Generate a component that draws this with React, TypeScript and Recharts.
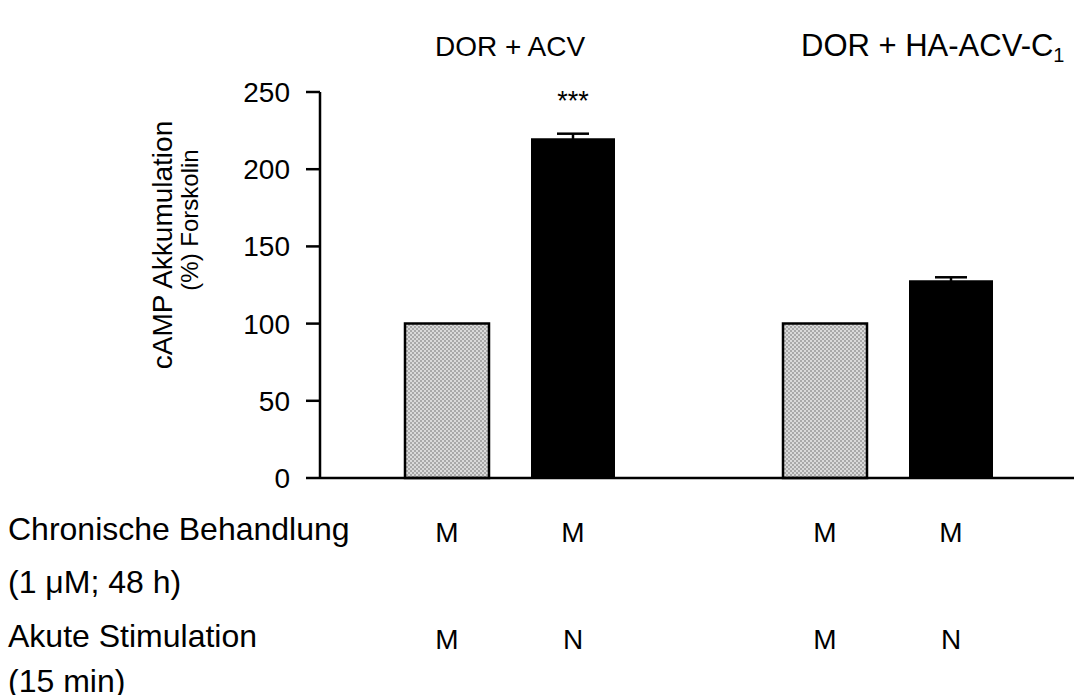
import React from "react";
import { BarChart, Bar, XAxis, YAxis, Cell, ErrorBar, LabelList } from "recharts";

const FONT = "'Liberation Sans', Arial, Helvetica, sans-serif";

// bars: two groups, an empty slot between them
const categories = ["ACV-M", "ACV-N", "gap", "HA-M", "HA-N"];
const values = [100, 220, null, 100, 128];
const errors = [0, 3, null, 0, 2];
const kinds = ["ctrl", "treat", "", "ctrl", "treat"];
const signif = ["", "***", "", "", ""];
const chronic = ["M", "M", "", "M", "M"];
const acute = ["M", "N", "", "M", "N"];
const yTicks = [0, 50, 100, 150, 200, 250];

const groupTitles = ["DOR + ACV", "DOR + HA-ACV-C"];
const rowLabels = ["Chronische Behandlung", "(1 μM; 48 h)", "Akute Stimulation", "(15 min)"];

const data = categories.map((c, i) => ({ name: c, value: values[i], err: errors[i], sig: signif[i] }));

function RowTick(props: any) {
  const { x, y, index } = props;
  return (
    <g>
      <text x={x} y={y + 62} textAnchor="middle" fontSize={28} fontFamily={FONT} fill="#000">
        {chronic[index]}
      </text>
      <text x={x} y={y + 169} textAnchor="middle" fontSize={28} fontFamily={FONT} fill="#000">
        {acute[index]}
      </text>
    </g>
  );
}

export default function App() {
  return (
    <div style={{ position: "absolute", left: 0, top: 0, width: 1074, height: 695, background: "#fff", fontFamily: FONT, overflow: "hidden" }}>
      <BarChart width={1074} height={695} data={data} margin={{ top: 92, right: 0, left: 0, bottom: 37 }}>
        <defs>
          <pattern id="checker" width="4" height="4" patternUnits="userSpaceOnUse">
            <rect width="4" height="4" fill="#dadada" />
            <rect width="2" height="2" fill="#a9a9a9" />
            <rect x="2" y="2" width="2" height="2" fill="#a9a9a9" />
          </pattern>
        </defs>
        <XAxis
          dataKey="name"
          height={180}
          interval={0}
          padding={{ left: 64, right: 60 }}
          tickSize={0}
          tickLine={false}
          axisLine={{ stroke: "#000", strokeWidth: 2.5 }}
          tick={<RowTick />}
        />
        <YAxis
          domain={[0, 250]}
          ticks={yTicks}
          width={320}
          tickSize={14}
          tickMargin={16}
          axisLine={{ stroke: "#000", strokeWidth: 2.5 }}
          tickLine={{ stroke: "#000", strokeWidth: 2.5 }}
          tick={{ fill: "#000", fontSize: 28, fontFamily: FONT }}
        />
        <Bar dataKey="value" barSize={84} isAnimationActive={false}>
          {data.map((d, i) => (
            <Cell
              key={i}
              fill={kinds[i] === "ctrl" ? "url(#checker)" : "#000"}
              stroke={kinds[i] === "ctrl" ? "#000" : "none"}
              strokeWidth={2.5}
            />
          ))}
          <ErrorBar dataKey="err" width={16} stroke="#000" strokeWidth={2.5} direction="y" />
          <LabelList dataKey="sig" position="top" offset={28} fill="#000" fontSize={27} fontFamily={FONT} />
        </Bar>
      </BarChart>
      <svg width={1074} height={695} style={{ position: "absolute", left: 0, top: 0, pointerEvents: "none" }} fontFamily={FONT}>
        <text x={510} y={56} textAnchor="middle" fontSize={28} fill="#000">{groupTitles[0]}</text>
        <text x={801} y={56} fontSize={31} fill="#000">
          {groupTitles[1]}
          <tspan fontSize={20} dy={6}>1</tspan>
        </text>
        <text transform="translate(172,245) rotate(-90)" textAnchor="middle" fontSize={28} fill="#000">cAMP Akkumulation</text>
        <text transform="translate(198,220) rotate(-90)" textAnchor="middle" fontSize={24} fill="#000">(%) Forskolin</text>
        {rowLabels.map((t, i) => (
          <text key={i} x={8} y={[540, 593, 647, 692][i]} fontSize={32} fill="#000">{t}</text>
        ))}
      </svg>
    </div>
  );
}
